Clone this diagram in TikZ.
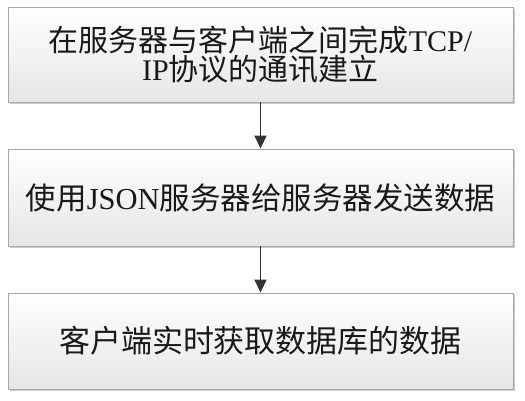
\documentclass[tikz,border=0pt]{standalone}
\usepackage{fontspec}
\setmainfont{Liberation Serif}
\newfontfamily\cjk{Noto Sans CJK SC}
\usetikzlibrary{arrows.meta,shadows}
\begin{document}
\begin{tikzpicture}[x=1pt,y=-1pt,
  box/.style={draw=gray!70, line width=0.8pt, top color=white, bottom color=gray!20,
    drop shadow={shadow xshift=1.5pt,shadow yshift=-1.5pt,fill=gray!40,opacity=1},
    minimum width=505pt, inner sep=0pt, align=center, text=black!90},
  conn/.style={draw=black!80, line width=1.5pt, -{Triangle[width=12pt,length=13pt]}}]
\fill[white] (0,0) rectangle (525,400);
\useasboundingbox (0,0) rectangle (525,400);
\node[box, minimum height=95pt] (b1) at (260.5,54.5)
  {\fontsize{30}{31}\selectfont\cjk 在服务器与客户端之间完成\rmfamily TCP/\\
   \fontsize{30}{31}\selectfont\rmfamily IP\cjk 协议的通讯建立};
\node[box, minimum height=97pt] (b2) at (260.5,197.5)
  {\fontsize{30.5}{32}\selectfont\cjk 使用\rmfamily JSON\cjk 服务器给服务器发送数据};
\node[box, minimum height=96pt] (b3) at (260.5,341)
  {\fontsize{31}{32}\selectfont\cjk 客户端实时获取数据库的数据};
\draw[conn] (b1) -- (b2);
\draw[conn] (b2) -- (b3);
\end{tikzpicture}
\end{document}
